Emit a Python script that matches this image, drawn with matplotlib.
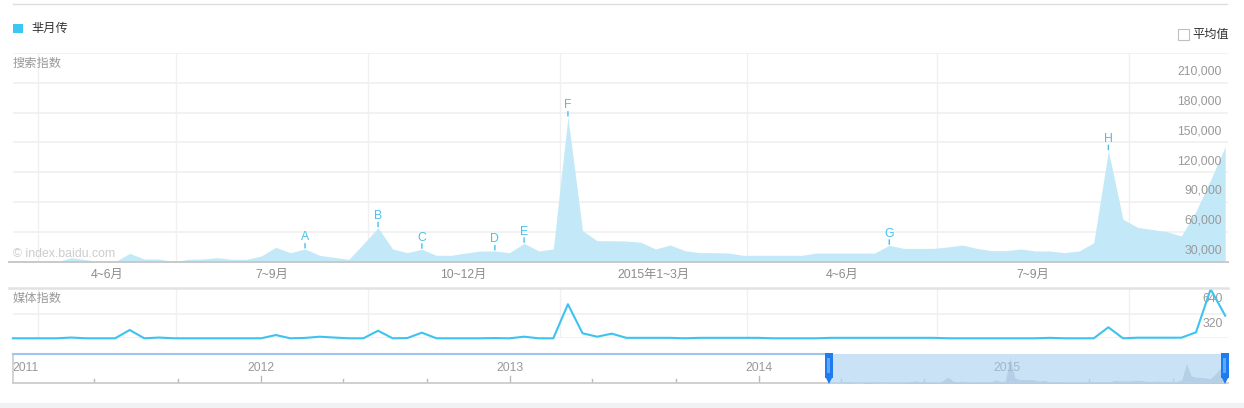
import matplotlib
matplotlib.use('Agg')
import matplotlib.pyplot as plt
import matplotlib.dates as mdates
import matplotlib.transforms as mtrans
from matplotlib.patches import Rectangle
from matplotlib.lines import Line2D
import pandas as pd

plt.rcParams['font.family'] = ['Liberation Sans', 'Noto Sans CJK SC', 'DejaVu Sans']

# weekly search index (搜索指数), Mondays from 2014-04-14
search = [
    0, 0, 0, 0, 4000, 2000, 0, 0, 8400, 2700,
    2700, 0, 2400, 2700, 4000, 2400, 2400, 5700, 14500, 9000,
    12800, 6400, 4400, 2400, 18000, 34200, 12800, 9100, 12500, 6400,
    6400, 8700, 10800, 10800, 9100, 18500, 10800, 12800, 145600, 31200,
    21100, 21100, 20800, 19500, 12800, 16800, 11100, 9100, 9100, 8700,
    6400, 6400, 6400, 6400, 6400, 8700, 8700, 8700, 8700, 8700,
    16500, 13400, 13400, 13400, 14800, 16800, 13400, 11100, 11100, 12800,
    10800, 10800, 9100, 10800, 19100, 111700, 42700, 34600, 32400, 30200,
    25900, 50900, 82300, 116000]

# weekly media index (媒体指数)
media = [
    0, 0, 0, 0, 10, 0, 0, 0, 109, 0,
    10, 0, 0, 0, 0, 0, 0, 0, 43, 0,
    5, 21, 10, 0, 0, 100, 0, 3, 74, 0,
    0, 0, 0, 3, 0, 21, 0, 0, 448, 66,
    21, 61, 6, 6, 6, 6, 0, 6, 6, 6,
    6, 6, 0, 0, 0, 0, 6, 6, 6, 6,
    6, 6, 6, 6, 0, 0, 0, 0, 0, 0,
    0, 6, 0, 0, 0, 145, 0, 8, 8, 8,
    8, 79, 645, 298]

weeks = pd.date_range('2014-04-14', periods=len(search), freq='7D')

# event markers: letter -> week index
marks = {'A': 20, 'B': 25, 'C': 28, 'D': 33, 'E': 35, 'F': 38, 'G': 60, 'H': 75}

main_ticks = [30000, 60000, 90000, 120000, 150000, 180000, 210000]
media_ticks = [320, 640]
quarter_lines = ['2014-04-26', '2014-07-01', '2014-10-01', '2015-01-01',
                 '2015-04-01', '2015-07-01', '2015-10-01']
quarter_labels = ['4~6月', '7~9月', '10~12月', '2015年1~3月', '4~6月', '7~9月']
years = [2011, 2012, 2013, 2014, 2015]

BLUE = '#3ec3f0'
FILL = '#c3e9f8'
GRID = '#f0f0f0'
GREY = '#999999'
FS = 8.8

W, H = 1244, 408
fig = plt.figure(figsize=(W / 100, H / 100), dpi=100)


def fx(px):
    return px / W


def fy(py):
    return 1 - py / H


xlim = (pd.Timestamp('2014-04-14 01:30'), pd.Timestamp('2015-11-17 08:00'))
qdates = [pd.Timestamp(d) for d in quarter_lines]

# ---- main chart
ax = fig.add_axes([fx(13), fy(261.7), fx(1215), 208.7 / H])
ax.set_xlim(*xlim)
ax.set_ylim(0, 210000)
ax.set_axis_off()
for v in main_ticks:
    ax.axhline(v, color=GRID, lw=1.2, zorder=0)
for d in qdates:
    ax.axvline(d, color=GRID, lw=1.0, zorder=0)
ax.fill_between(weeks, search, color=FILL, lw=0, zorder=2)
for v in main_ticks:
    ax.annotate(f'{v:,}', xy=(1, v), xycoords=('axes fraction', 'data'),
                xytext=(-6, -18.7), textcoords='offset pixels',
                ha='right', va='center', color=GREY, fontsize=FS)
for letter, k in marks.items():
    d, v = weeks[k], search[k]
    ax.annotate(letter, xy=(d, v), xytext=(0, 8.6), textcoords='offset pixels',
                ha='center', va='baseline', color='#45c1ee', fontsize=FS, zorder=5)
    ax.annotate('', xy=(d, v), xytext=(0, 5.5), textcoords='offset pixels',
                arrowprops=dict(arrowstyle='-', color='#45c1ee', lw=1,
                                shrinkA=0, shrinkB=0.7))

tr = mtrans.blended_transform_factory(ax.transData, fig.transFigure)
for (a, b), lab in zip(zip(qdates[:-1], qdates[1:]), quarter_labels):
    ax.text(a + (b - a) / 2, fy(275), lab, transform=tr, ha='center', va='center',
            color='#8c8c8c', fontsize=FS)

# ---- media chart
ax2 = fig.add_axes([fx(13), fy(338.3), fx(1215), 50 / H])
ax2.set_xlim(*xlim)
ax2.set_ylim(0, 658)
ax2.set_axis_off()
for v in [0, 320]:
    ax2.axhline(v, color=GRID, lw=1.2, zorder=0)
for d in qdates:
    ax2.axvline(d, color=GRID, lw=1.0, zorder=0)
ax2.plot(weeks, media, color=BLUE, lw=1.5, clip_on=False, zorder=3)
for v in media_ticks:
    ax2.annotate(str(v), xy=(1, v), xycoords=('axes fraction', 'data'),
                 xytext=(-5, -9.7), textcoords='offset pixels',
                 ha='right', va='center', color=GREY, fontsize=FS, zorder=2)

# ---- range selector
ax3 = fig.add_axes([fx(12.5), fy(383.3), fx(1215.5), 29.3 / H])
sel_lim = (pd.Timestamp('2011-01-01'), pd.Timestamp('2015-11-21'))
ax3.set_xlim(*sel_lim)
ax3.set_ylim(0, 165000)
ax3.set_axis_off()
bt = mtrans.blended_transform_factory(ax3.transData, ax3.transAxes)
ax3.fill_between(weeks, search, color='#b8c0c8', lw=0, zorder=1)
for y in years:
    if y > 2011:
        ax3.plot([pd.Timestamp(f'{y}-01-01')] * 2, [0, 0.26], transform=bt,
                 color='#bbbbbb', lw=1, zorder=2)
    for m in (5, 9):
        d = pd.Timestamp(f'{y}-{m:02d}-01')
        if d < sel_lim[1]:
            ax3.plot([d, d], [0, 0.137], transform=bt, color='#bbbbbb', lw=1, zorder=2)
    d = pd.Timestamp(f'{y}-01-01')
    inside = d >= weeks[0]
    ax3.text(d, 0.512, str(y), transform=bt, ha='left' if y == 2011 else 'center',
             va='center', color='#a2b6c8' if inside else GREY, fontsize=FS,
             zorder=8 if inside else 2)
ax3.plot(sel_lim, [0, 0], transform=bt, color='#c8c8c8', lw=1.2, clip_on=False, zorder=2)
ax3.plot([sel_lim[0]] * 2, [0, 1], transform=bt, color='#cccccc', lw=1.2, clip_on=False)
ax3.plot([sel_lim[0], weeks[0]], [1, 1], transform=bt, color='#a2c3ec', lw=1.5,
         clip_on=False)
x0, x1 = mdates.date2num(weeks[0]), mdates.date2num(weeks[-1])
ax3.add_patch(Rectangle((x0, 0), x1 - x0, 1, transform=bt, color='#b3d7f3',
                        alpha=0.7, lw=0, zorder=5, clip_on=False))
for xc in (x0, x1):
    ax3.add_patch(Rectangle((xc - 5.9, 0.17), 11.8, 0.86, transform=bt,
                            color='#1f7cf0', lw=0, zorder=6, clip_on=False))
    ax3.add_patch(Rectangle((xc - 2.2, 0.35), 4.4, 0.5, transform=bt,
                            color='#5aa8ff', lw=0, zorder=7, clip_on=False))
    ax3.plot([xc], [0.08], marker='v', ms=5, color='#1f7cf0', mew=0,
             transform=bt, clip_on=False, zorder=6)

# ---- frame lines, legend and titles
fig.add_artist(Line2D([fx(13), fx(1227)], [fy(4.3)] * 2, color='#dddddd', lw=1))
fig.add_artist(Line2D([fx(9), fx(1228)], [fy(261.7)] * 2, color='#c9c9c9', lw=1.4))
fig.add_artist(Line2D([fx(9), fx(1228)], [fy(288.3)] * 2, color='#e2e2e2', lw=1.8))
fig.add_artist(Rectangle((0, 0), 1, 5 / H, transform=fig.transFigure,
                         color='#eef2f3', lw=0))
fig.add_artist(Rectangle((fx(13.3), fy(33.3)), fx(9.4), 9.3 / H,
                         transform=fig.transFigure, color='#3ec6f3', lw=0))
fig.text(fx(31), fy(29), '芈月传', va='center', color='#333333', fontsize=FS)
fig.add_artist(Rectangle((fx(1177.5), fy(40)), fx(11.5), 10.7 / H,
                         transform=fig.transFigure, fill=False,
                         edgecolor='#c0c0c0', lw=0.8))
fig.text(fx(1192), fy(34.7), '平均值', va='center', color='#333333', fontsize=FS)
fig.text(fx(13), fy(64), '搜索指数', va='center', color=GREY, fontsize=FS)
fig.text(fx(13), fy(299), '媒体指数', va='center', color=GREY, fontsize=FS)
fig.text(fx(13), fy(254), '© index.baidu.com', va='center', color='#cccccc', fontsize=FS)

fig.savefig('out.png', dpi=100)
